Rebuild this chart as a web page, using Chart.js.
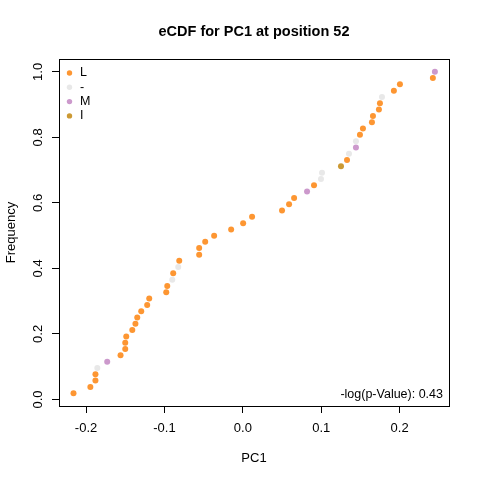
<!DOCTYPE html>
<html>
<head>
<meta charset="utf-8">
<script src="https://cdn.jsdelivr.net/npm/chart.js@4.4.0/dist/chart.umd.min.js"></script>
<style>
  html, body { margin: 0; padding: 0; background: #fff; }
  #wrap { width: 480px; height: 480px; }
</style>
</head>
<body>
<div id="wrap"><canvas id="chart" width="480" height="480"></canvas></div>
<script>
// PC1 values, sorted
const pc1 = [
  -0.216, -0.1945, -0.188, -0.188, -0.1856, -0.173, -0.156, -0.150, -0.150, -0.1487,
  -0.141, -0.137, -0.1347, -0.1296, -0.122, -0.1194, -0.0977, -0.0964, -0.090, -0.0888,
  -0.0824, -0.0811, -0.0557, -0.0557, -0.048, -0.0366, -0.0149, 0.0004, 0.0118, 0.050,
  0.059, 0.0654, 0.0819, 0.0908, 0.0997, 0.101, 0.1252, 0.1329, 0.1354, 0.1443,
  0.1443, 0.1494, 0.1532, 0.1647, 0.166, 0.1736, 0.1749, 0.1775, 0.1927, 0.2004,
  0.2424, 0.245
]
const frequency = [
  0.019, 0.038, 0.058, 0.077, 0.096, 0.115, 0.135, 0.154, 0.173, 0.192,
  0.212, 0.231, 0.250, 0.269, 0.288, 0.308, 0.327, 0.346, 0.365, 0.385,
  0.404, 0.423, 0.442, 0.462, 0.481, 0.500, 0.519, 0.538, 0.558, 0.577,
  0.596, 0.615, 0.635, 0.654, 0.673, 0.692, 0.712, 0.731, 0.750, 0.769,
  0.788, 0.808, 0.827, 0.846, 0.865, 0.885, 0.904, 0.923, 0.942, 0.962,
  0.981, 1.000
]
const residue = [
  'L', 'L', 'L', 'L', '-', 'M', 'L', 'L', 'L', 'L',
  'L', 'L', 'L', 'L', 'L', 'L', 'L', 'L', '-', 'L',
  '-', 'L', 'L', 'L', 'L', 'L', 'L', 'L', 'L', 'L',
  'L', 'L', 'M', 'L', '-', '-', 'I', 'L', '-', 'M',
  '-', 'L', 'L', 'L', 'L', 'L', 'L', '-', 'L', 'L',
  'L', 'M'
]
const categories = ['L', '-', 'M', 'I']
const colors = ['#FD9632', '#E8E8E8', '#CC99CC', '#CC9933']
const xTicks = [-0.2, -0.1, 0.0, 0.1, 0.2]
const yTicks = [0.0, 0.2, 0.4, 0.6, 0.8, 1.0]
const title = 'eCDF for PC1 at position 52'
const note = '-log(p-Value): 0.43'

const datasets = categories.map((cat, k) => ({
  label: cat,
  data: pc1.map((x, i) => ({ x: x, y: frequency[i] })).filter((p, i) => residue[i] === cat),
  backgroundColor: colors[k],
  borderWidth: 0,
  pointRadius: 3,
  pointHoverRadius: 3
}))

const FONT = '"Liberation Sans", Arial, sans-serif'

const rDecor = {
  id: 'rDecor',
  afterDraw(chart) {
    const ctx = chart.ctx
    const a = chart.chartArea
    const xs = chart.scales.x
    const ys = chart.scales.y
    ctx.save()
    // box
    ctx.strokeStyle = '#000'
    ctx.lineWidth = 1
    ctx.strokeRect(Math.round(a.left) + 0.5, Math.round(a.top) + 0.5,
      Math.round(a.right - a.left), Math.round(a.bottom - a.top))
    ctx.fillStyle = '#000'
    // title
    ctx.font = 'bold 14.5px ' + FONT
    ctx.textAlign = 'center'
    ctx.textBaseline = 'middle'
    ctx.fillText(title, (a.left + a.right) / 2, 32)
    // x tick labels
    ctx.font = '13px ' + FONT
    xTicks.forEach(v => {
      ctx.fillText(v.toFixed(1), xs.getPixelForValue(v), 428)
    })
    ctx.fillText('PC1', (a.left + a.right) / 2, 458)
    // y tick labels, rotated like R
    yTicks.forEach(v => {
      ctx.save()
      ctx.translate(38, ys.getPixelForValue(v))
      ctx.rotate(-Math.PI / 2)
      ctx.fillText(v.toFixed(1), 0, 0)
      ctx.restore()
    })
    ctx.save()
    ctx.translate(11, (a.top + a.bottom) / 2)
    ctx.rotate(-Math.PI / 2)
    ctx.fillText('Frequency', 0, 0)
    ctx.restore()
    // legend
    ctx.font = '12.5px ' + FONT
    ctx.textAlign = 'left'
    categories.forEach((cat, k) => {
      const y = 73 + k * 14.3
      ctx.fillStyle = colors[k]
      ctx.beginPath()
      ctx.arc(69.5, y, 2.7, 0, Math.PI * 2)
      ctx.fill()
      ctx.fillStyle = '#000'
      ctx.fillText(cat, 80, y)
    })
    // p-value note
    ctx.textAlign = 'right'
    ctx.fillText(note, 443, 395)
    ctx.restore()
  }
}

new Chart(document.getElementById('chart'), {
  type: 'scatter',
  data: { datasets: datasets },
  options: {
    responsive: false,
    animation: false,
    devicePixelRatio: 1,
    layout: { padding: { left: 0, top: 59, right: 31, bottom: 0 } },
    plugins: {
      legend: { display: false },
      title: { display: false },
      tooltip: { enabled: false }
    },
    scales: {
      x: {
        type: 'linear',
        min: -0.2345,
        max: 0.263,
        afterFit: s => { s.height = 74 },
        afterBuildTicks: s => { s.ticks = xTicks.map(v => ({ value: v })) },
        border: { display: false },
        grid: { drawOnChartArea: false, drawTicks: true, tickLength: 7, color: '#000', tickColor: '#000' },
        ticks: { display: false }
      },
      y: {
        type: 'linear',
        min: -0.02,
        max: 1.0392,
        afterFit: s => { s.width = 59 },
        afterBuildTicks: s => { s.ticks = yTicks.map(v => ({ value: v })) },
        border: { display: false },
        grid: { drawOnChartArea: false, drawTicks: true, tickLength: 7, color: '#000', tickColor: '#000' },
        ticks: { display: false }
      }
    }
  },
  plugins: [rDecor]
})
</script>
</body>
</html>
